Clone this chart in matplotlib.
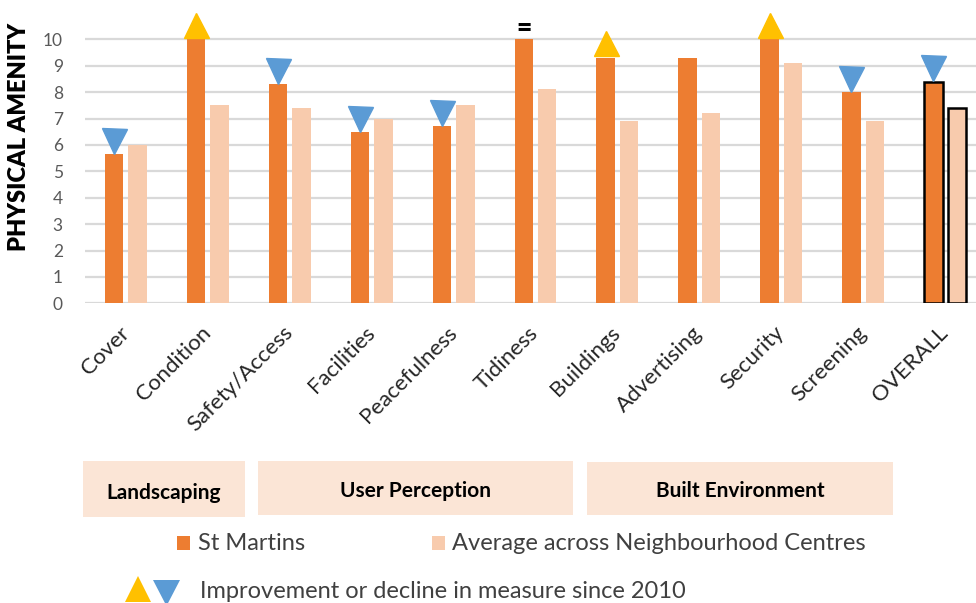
import matplotlib
matplotlib.use("Agg")
import matplotlib.pyplot as plt
from matplotlib.patches import Rectangle, Polygon

plt.rcParams['font.family'] = ['Lato', 'DejaVu Sans']

categories = ['Cover', 'Condition', 'Safety/Access', 'Facilities', 'Peacefulness',
              'Tidiness', 'Buildings', 'Advertising', 'Security', 'Screening', 'OVERALL']
st_martins = [5.65, 10.0, 8.3, 6.5, 6.7, 10.0, 9.3, 9.3, 10.0, 8.0, 8.4]
average = [6.0, 7.5, 7.4, 7.0, 7.5, 8.1, 6.9, 7.2, 9.1, 6.9, 7.4]
# change since 2010: 'up', 'down', 'same' or None
change = ['down', 'up', 'down', 'down', 'down', 'same', 'up', None, 'up', 'down', 'down']

groups = ['Landscaping', 'User Perception', 'Built Environment']
series_names = ['St Martins', 'Average across Neighbourhood Centres']
note = 'Improvement or decline in measure since 2010'

ORANGE = '#ED7D31'
PEACH = '#F8CBAD'
YELLOW = '#FFC000'
BLUE = '#5B9BD5'
BOXCOL = '#FBE5D6'
GREY = '#404040'

W, H = 976, 603
fig = plt.figure(figsize=(W / 100, H / 100), dpi=100)

ax = fig.add_axes([85 / W, 1 - 303.3 / H, 901 / W, 303.3 / H])
x = list(range(len(categories)))
bw = 0.226
off = 0.143
edge = ['none'] * (len(categories) - 1) + ['black']
lw = [0] * (len(categories) - 1) + [1.8]
ax.bar([i - off for i in x], st_martins, bw, color=ORANGE, edgecolor=edge, linewidth=lw, zorder=3)
ax.bar([i + off for i in x], average, bw, color=PEACH, edgecolor=edge, linewidth=lw, zorder=3)

for i, c in enumerate(change):
    v = st_martins[i]
    if c == 'down':
        ax.plot(i - off, v + 0.5, marker='v', ms=18, color=BLUE, clip_on=False, zorder=4)
    elif c == 'up':
        ax.plot(i - off, v + 0.55, marker='^', ms=18, color=YELLOW, clip_on=False, zorder=4)
    elif c == 'same':
        ax.text(i - off, v + 0.44, '=', ha='center', va='center', fontsize=19,
                fontweight='heavy', color='black', zorder=4)

ax.set_xlim(-0.5, len(categories) - 0.5)
ax.set_ylim(0, 303.3 / 26.4)
ax.set_yticks(range(0, 11))
ax.grid(axis='y', color='#D9D9D9', linewidth=1.6, zorder=0)
ax.set_axisbelow(True)
for s in ax.spines.values():
    s.set_visible(False)
ax.tick_params(axis='y', length=0, pad=16, labelsize=12.5, labelcolor='#595959')
ax.tick_params(axis='x', length=0, pad=19)
ax.set_xticks(x)
ax.set_xticklabels(categories, rotation=45, ha='right', va='center',
                   rotation_mode='anchor', fontsize=16, color='#262626')

fig.text(19 / W, 1 - 137 / H, 'PHYSICAL AMENITY', rotation=90, ha='center', va='center',
         fontsize=17, fontweight='heavy', color='black')

# bottom key drawn in pixel space
ov = fig.add_axes([0, 0, 1, 1])
ov.set_xlim(0, W)
ov.set_ylim(H, 0)
ov.axis('off')
boxes = [(83, 461, 245, 517, 493), (258, 461, 573, 515, 491), (587, 462, 893, 515, 491)]
for (x0, y0, x1, y1, ty), g in zip(boxes, groups):
    ov.add_patch(Rectangle((x0, y0), x1 - x0, y1 - y0, color=BOXCOL, lw=0))
    ov.text((x0 + x1) / 2, ty, g, ha='center', va='center', fontsize=15,
            fontweight='bold', color='black')

ov.add_patch(Rectangle((177, 536), 13, 14, color=ORANGE, lw=0))
ov.text(198, 543, series_names[0], ha='left', va='center', fontsize=17, color=GREY)
ov.add_patch(Rectangle((432, 536), 13, 14, color=PEACH, lw=0))
ov.text(452, 543, series_names[1], ha='left', va='center', fontsize=17, color=GREY)

ov.add_patch(Polygon([(125, 602), (151, 602), (138, 576)], color=YELLOW, lw=0, clip_on=False))
ov.add_patch(Polygon([(153, 580), (180, 580), (166.5, 606)], color=BLUE, lw=0, clip_on=False))
ov.text(200, 592, note, ha='left', va='center', fontsize=17, color=GREY)

fig.savefig('out.png', dpi=100)
